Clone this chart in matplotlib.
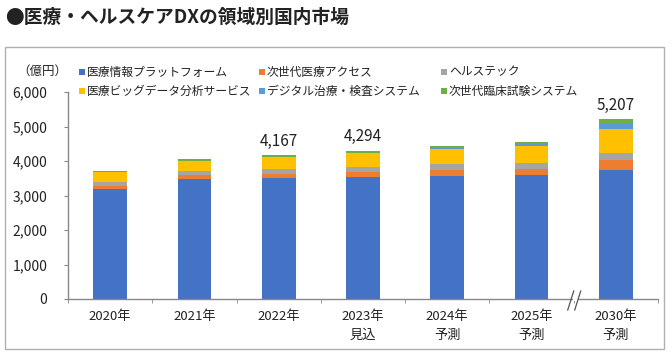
import numpy as np
import matplotlib
matplotlib.use("Agg")
import matplotlib.pyplot as plt
from matplotlib.patches import Rectangle

plt.rcParams['font.family'] = ['Noto Sans CJK JP', 'DejaVu Sans']

# data (億円)
years = ['2020年', '2021年', '2022年', '2023年\n見込', '2024年\n予測', '2025年\n予測', '2030年\n予測']
series_names = ['医療情報プラットフォーム', '次世代医療アクセス', 'ヘルステック',
                '医療ビッグデータ分析サービス', 'デジタル治療・検査システム', '次世代臨床試験システム']
platform = [3200, 3480, 3495, 3530, 3570, 3590, 3750]
access = [80, 105, 125, 155, 160, 190, 280]
healthtech = [120, 135, 155, 155, 175, 175, 212]
bigdata = [270, 290, 330, 380, 440, 480, 695]
digital = [0, 0, 0, 10, 48, 50, 165]
trial = [40, 60, 62, 64, 40, 67, 105]
show_total = [False, False, True, True, False, False, True]
yticks = [0, 1000, 2000, 3000, 4000, 5000, 6000]

colors = ['#4472C4', '#ED7D31', '#A5A5A5', '#FFC000', '#5B9BD5', '#70AD47']

W, H = 671, 353
fig = plt.figure(figsize=(W / 100, H / 100), dpi=100)

# outer frame
fig.patches.append(Rectangle((5 / W, 1 - 349 / H), 659 / W, 302 / H, transform=fig.transFigure,
                             fill=False, edgecolor='#b0b0b0', linewidth=1.0))

fig.text(5 / W, 1 - 17 / H, '●医療・ヘルスケアDXの領域別国内市場', fontsize=13.5,
         fontweight='bold', color='#222222', va='center', ha='left')

ax = fig.add_axes([68 / W, 1 - 299 / H, 590 / W, 207 / H])

series = [platform, access, healthtech, bigdata, digital, trial]
x = np.arange(len(years))
bottom = np.zeros(len(years))
for vals, col in zip(series, colors):
    vals = np.array(vals, dtype=float)
    ax.bar(x, vals, width=0.4, bottom=bottom, color=col, edgecolor='none')
    bottom += vals

for i, tot in enumerate(bottom):
    if show_total[i]:
        ax.annotate(f'{int(tot):,}', (x[i], tot), xytext=(0, 4), textcoords='offset points',
                    ha='center', va='bottom', fontsize=11, color='#222222')

ax.set_xlim(-0.5, len(years) - 0.5)
ax.set_ylim(0, 6000)
ax.set_yticks(yticks)
ax.set_yticklabels([f'{v:,}' for v in yticks], fontsize=10, color='#222222')
ax.set_xticks(x)
ax.set_xticklabels(years, fontsize=9.5, color='#222222', linespacing=1.6)
ax.tick_params(axis='x', length=0, pad=8)
ax.tick_params(axis='y', length=3, color='#888888', pad=12)
# category boundary ticks
ax.set_xticks(np.arange(len(years) + 1) - 0.5, minor=True)
ax.tick_params(axis='x', which='minor', length=3, color='#888888', direction='out')

for s in ['top', 'right']:
    ax.spines[s].set_visible(False)
for s in ['left', 'bottom']:
    ax.spines[s].set_color('#888888')
    ax.spines[s].set_linewidth(1.0)

# axis break mark between 2025 and 2030
bx = len(years) - 1.5
px = 1 / 84.3
py = 6000 / 207
ax.add_patch(Rectangle((bx - 1 * px, -2 * py), 5 * px, 4 * py, facecolor='white', edgecolor='none',
                       clip_on=False, zorder=5))
for dx in (-3, 4):
    ax.plot([bx + (dx - 3) * px, bx + (dx + 3) * px], [-11 * py, 8 * py], color='#555555',
            linewidth=0.9, clip_on=False, zorder=6)

fig.text(17 / W, 1 - 71 / H, '（億円）', fontsize=9, color='#222222', va='center', ha='left')

# legend, placed like the original (3 columns x 2 rows)
col_x = [82, 262, 444]
row_y = [72, 91]
for k, name in enumerate(series_names):
    cx = col_x[k % 3]
    cy = row_y[k // 3]
    fig.patches.append(Rectangle(((cx - 3) / W, 1 - (cy + 3) / H), 6 / W, 6 / H,
                                 transform=fig.transFigure, facecolor=colors[k], edgecolor='none'))
    fig.text((cx + 5) / W, 1 - cy / H, name, fontsize=8.5, color='#222222',
             va='center', ha='left')

fig.savefig('out.png', dpi=100)
